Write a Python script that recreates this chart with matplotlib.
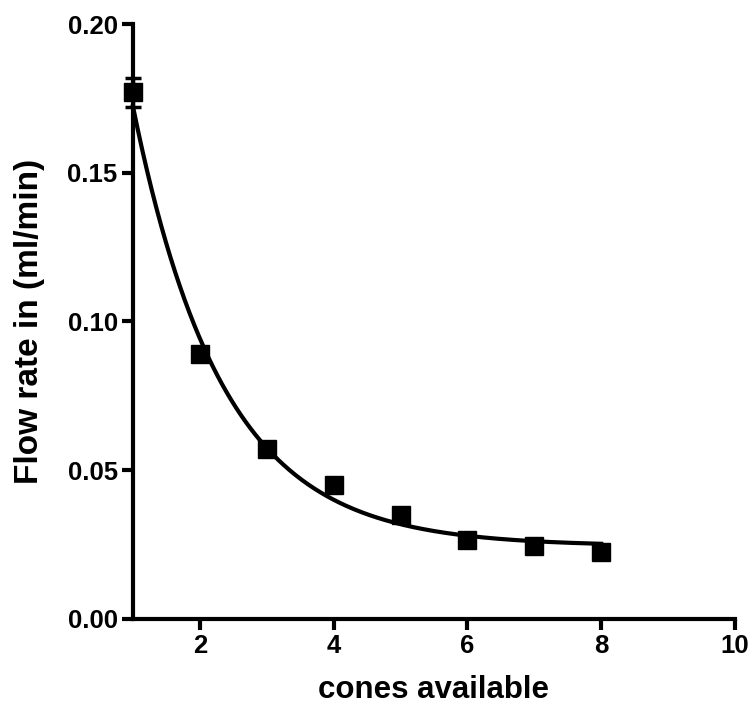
import numpy as np
import matplotlib
matplotlib.use("Agg")
import matplotlib.pyplot as plt

cones = [1, 2, 3, 4, 5, 6, 7, 8]
flow = [0.177, 0.089, 0.057, 0.045, 0.035, 0.0265, 0.0245, 0.0225]
flow_err = [0.005, 0.0, 0.0, 0.0, 0.0, 0.0, 0.0, 0.0]

# one-phase exponential decay fit parameters
fit_plateau = 0.0245
fit_amp = 0.313
fit_k = 0.75

xticks = [2, 4, 6, 8, 10]
yticks = [0.00, 0.05, 0.10, 0.15, 0.20]
ytick_labels = ["0.00", "0.05", "0.10", "0.15", "0.20"]

plt.rcParams['font.family'] = ['Liberation Sans', 'DejaVu Sans']
plt.rcParams['font.weight'] = 'bold'

fig = plt.figure(figsize=(7.51, 7.15), dpi=100)
ax = fig.add_axes([0.177, 0.1343, 0.8017, 0.8321])

xf = np.linspace(cones[0], cones[-1], 300)
yf = fit_plateau + fit_amp * np.exp(-fit_k * xf)
ax.plot(xf, yf, color='black', lw=3, zorder=3, clip_on=False)

ax.errorbar(cones, flow, yerr=flow_err, fmt='s', color='black', ms=13,
            ecolor='black', elinewidth=2.5, capsize=5.5, capthick=2.5,
            zorder=4, clip_on=False)

ax.set_xlim(1, 10)
ax.set_ylim(0, 0.20)
ax.set_xticks(xticks)
ax.set_xticklabels([str(t) for t in xticks])
ax.set_yticks(yticks)
ax.set_yticklabels(ytick_labels)

for s in ['top', 'right']:
    ax.spines[s].set_visible(False)
for s in ['left', 'bottom']:
    ax.spines[s].set_linewidth(3)
ax.tick_params(axis='both', width=3, length=8, labelsize=18.5, pad=3)
for lab in ax.get_xticklabels() + ax.get_yticklabels():
    lab.set_fontweight('bold')

ax.set_xlabel('cones available', fontsize=22.5, fontweight='bold', labelpad=12)
ax.set_ylabel('Flow rate in (ml/min)', fontsize=24, fontweight='bold', labelpad=16)

fig.savefig('out.png', dpi=100)
